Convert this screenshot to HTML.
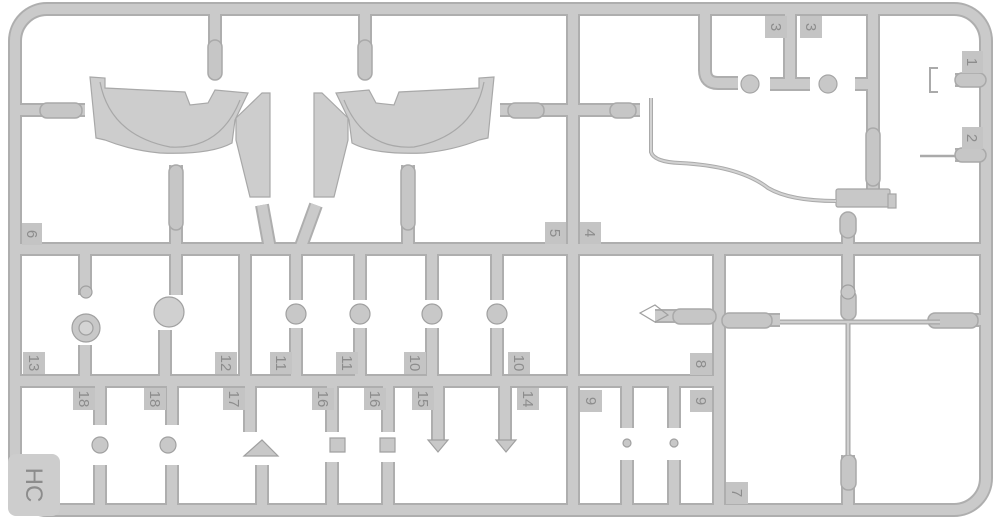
<!DOCTYPE html>
<html><head><meta charset="utf-8"><style>
html,body{margin:0;padding:0;background:#fff;width:1000px;height:523px;overflow:hidden}
text{font-family:"Liberation Sans",sans-serif;font-size:15px;fill:#8c8c8c}
</style></head><body>
<svg width="1000" height="523" viewBox="0 0 1000 523" xmlns="http://www.w3.org/2000/svg">
<defs>
<g id="run" fill="none">
<rect x="15" y="9" width="971" height="501" rx="32"/>
<path d="M15,249H986M15,381H719M573,9V510M245,249V381M719,249V510"/>
<path d="M215,9V70M365,9V70M15,110H85M176,249V165M408,249V165M270,249L262,205M300,249L316,205"/>
<path d="M500,110H640M705,9V70Q705,83 718,83H738M790,9V84M770,84H810M873,9V190M855,84H873"/>
<path d="M848,249V222M986,80H955M986,155H955"/>
<path d="M85,249V295M85,381V345M176,249V295M165,381V330"/>
<path d="M296,249V300M360,249V300M432,249V300M497,249V300M296,381V328M360,381V328M432,381V328M497,381V328"/>
<path d="M655,316H719M719,320H780M940,320H986M848,249V300M848,510V455"/>
<path d="M100,381V425M100,510V465M172,381V425M172,510V465M250,381V432M262,510V465M332,381V432M332,510V462M388,381V432M388,510V462M438,381V440M505,381V440M627,381V428M627,510V460M674,381V428M674,510V460"/>
</g>
<g id="caps">
<rect x="40" y="103" width="42" height="15" rx="7"/><rect x="508" y="103" width="36" height="15" rx="7"/><rect x="610" y="103" width="26" height="15" rx="7"/>
<rect x="208" y="40" width="14" height="40" rx="7"/><rect x="358" y="40" width="14" height="40" rx="7"/>
<rect x="169" y="165" width="14" height="65" rx="7"/><rect x="401" y="165" width="14" height="65" rx="7"/>
<rect x="866" y="128" width="14" height="58" rx="7"/><rect x="955" y="73" width="31" height="14" rx="7"/><rect x="955" y="148" width="31" height="14" rx="7"/>
<rect x="840" y="212" width="16" height="26" rx="8"/><rect x="673" y="309" width="43" height="15" rx="7"/>
<rect x="722" y="313" width="50" height="15" rx="7"/><rect x="928" y="313" width="50" height="15" rx="7"/>
<rect x="841" y="290" width="15" height="30" rx="7"/><rect x="841" y="455" width="15" height="35" rx="7"/>
</g>
</defs>
<use href="#run" stroke="#aeaeae" stroke-width="14"/>
<use href="#run" stroke="#cacaca" stroke-width="10"/>
<g fill="#c6c6c6" stroke="#a9a9a9" stroke-width="1.5"><use href="#caps"/></g>
<g fill="#cdcdcd" stroke="#a8a8a8" stroke-width="1.2">
<path d="M90,77L105,78L105,88L185,92L190,105L208,103L215,90L248,93L235,120L232,143Q210,155 160,153Q130,150 105,140L96,138Z"/>
<path d="M100,82Q110,135 170,147Q220,150 240,100" fill="none"/>
<path d="M236,118L262,93L270,93L270,197L250,197L236,140Z"/>
</g>
<g fill="#cdcdcd" stroke="#a8a8a8" stroke-width="1.2" transform="translate(584,0) scale(-1,1)">
<path d="M90,77L105,78L105,88L185,92L190,105L208,103L215,90L248,93L235,120L232,143Q210,155 160,153Q130,150 105,140L96,138Z"/>
<path d="M100,82Q110,135 170,147Q220,150 240,100" fill="none"/>
<path d="M236,118L262,93L270,93L270,197L250,197L236,140Z"/>
</g>
<g fill="#c8c8c8" stroke="#a5a5a5" stroke-width="1.2">
<circle cx="750" cy="84" r="9"/><circle cx="828" cy="84" r="9"/>
<rect x="836" y="189" width="54" height="18" rx="2"/><rect x="888" y="194" width="8" height="14"/>
</g>
<path d="M651,98V152Q654,162 680,163Q740,166 768,188Q790,201 836,201" fill="none" stroke="#aaa" stroke-width="4"/>
<path d="M651,98V152Q654,162 680,163Q740,166 768,188Q790,201 836,201" fill="none" stroke="#d2d2d2" stroke-width="2"/>
<path d="M938,68H930V92H938" fill="none" stroke="#aaa" stroke-width="2"/>
<path d="M920,156H955" stroke="#aaa" stroke-width="2.5"/>
<g fill="#c8c8c8" stroke="#a0a0a0" stroke-width="1.2">
<circle cx="86" cy="328" r="14"/><circle cx="86" cy="328" r="7" fill="#d4d4d4"/><circle cx="86" cy="292" r="6"/>
<circle cx="169" cy="312" r="15" fill="#d0d0d0"/>
<circle cx="296" cy="314" r="10"/><circle cx="360" cy="314" r="10"/><circle cx="432" cy="314" r="10"/><circle cx="497" cy="314" r="10"/>
<path d="M640,313L655,305L668,315L655,322Z" fill="none"/>
<path d="M244,456L262,440L278,456Z"/>
<circle cx="100" cy="445" r="8"/><circle cx="168" cy="445" r="8"/>
<path d="M330,438H345V452H330ZM380,438H395V452H380Z"/>
<path d="M428,440H448L438,452Z"/><path d="M496,440H516L506,452Z"/>
<circle cx="627" cy="443" r="4"/><circle cx="674" cy="443" r="4"/>
<circle cx="848" cy="292" r="7"/>
</g>
<path d="M780,322H940M848,322V455" stroke="#a5a5a5" stroke-width="5"/>
<path d="M780,322H940M848,322V455" stroke="#d0d0d0" stroke-width="2.5"/>
<g fill="#c4c4c4">
<rect x="22" y="223" width="20" height="22"/><rect x="545" y="222" width="21" height="22"/><rect x="580" y="222" width="21" height="22"/>
<rect x="765" y="16" width="22" height="22"/><rect x="800" y="16" width="22" height="22"/>
<rect x="962" y="51" width="21" height="22"/><rect x="962" y="127" width="21" height="22"/>
<rect x="23" y="352" width="22" height="22"/><rect x="215" y="352" width="22" height="22"/><rect x="270" y="352" width="22" height="22"/><rect x="336" y="352" width="22" height="22"/><rect x="404" y="352" width="22" height="22"/><rect x="508" y="352" width="22" height="22"/><rect x="690" y="353" width="22" height="22"/>
<rect x="73" y="388" width="22" height="22"/><rect x="144" y="388" width="22" height="22"/><rect x="223" y="388" width="22" height="22"/><rect x="312" y="388" width="22" height="22"/><rect x="364" y="388" width="22" height="22"/><rect x="412" y="388" width="22" height="22"/><rect x="517" y="388" width="22" height="22"/><rect x="580" y="390" width="22" height="22"/><rect x="690" y="390" width="22" height="22"/>
<rect x="726" y="482" width="22" height="22"/>
<rect x="8" y="454" width="52" height="62" rx="8" fill="#cdcdcd"/>
</g>
<g text-anchor="middle">
<text transform="translate(32,234) rotate(90)" dy="5">6</text>
<text transform="translate(555,233) rotate(90)" dy="5">5</text>
<text transform="translate(590,233) rotate(90)" dy="5">4</text>
<text transform="translate(776,27) rotate(90)" dy="5">3</text>
<text transform="translate(811,27) rotate(90)" dy="5">3</text>
<text transform="translate(972,62) rotate(90)" dy="5">1</text>
<text transform="translate(972,138) rotate(90)" dy="5">2</text>
<text transform="translate(34,363) rotate(90)" dy="5">13</text>
<text transform="translate(226,363) rotate(90)" dy="5">12</text>
<text transform="translate(281,363) rotate(90)" dy="5">11</text>
<text transform="translate(347,363) rotate(90)" dy="5">11</text>
<text transform="translate(415,363) rotate(90)" dy="5">10</text>
<text transform="translate(519,363) rotate(90)" dy="5">10</text>
<text transform="translate(701,364) rotate(90)" dy="5">8</text>
<text transform="translate(84,399) rotate(90)" dy="5">18</text>
<text transform="translate(155,399) rotate(90)" dy="5">18</text>
<text transform="translate(234,399) rotate(90)" dy="5">17</text>
<text transform="translate(323,399) rotate(90)" dy="5">16</text>
<text transform="translate(375,399) rotate(90)" dy="5">16</text>
<text transform="translate(423,399) rotate(90)" dy="5">15</text>
<text transform="translate(528,399) rotate(90)" dy="5">14</text>
<text transform="translate(591,401) rotate(90)" dy="5">9</text>
<text transform="translate(701,401) rotate(90)" dy="5">9</text>
<text transform="translate(737,493) rotate(90)" dy="5">7</text>
<text transform="translate(34,485) rotate(90)" dy="8" style="font-size:24px">HC</text>
</g>
</svg>
</body></html>
